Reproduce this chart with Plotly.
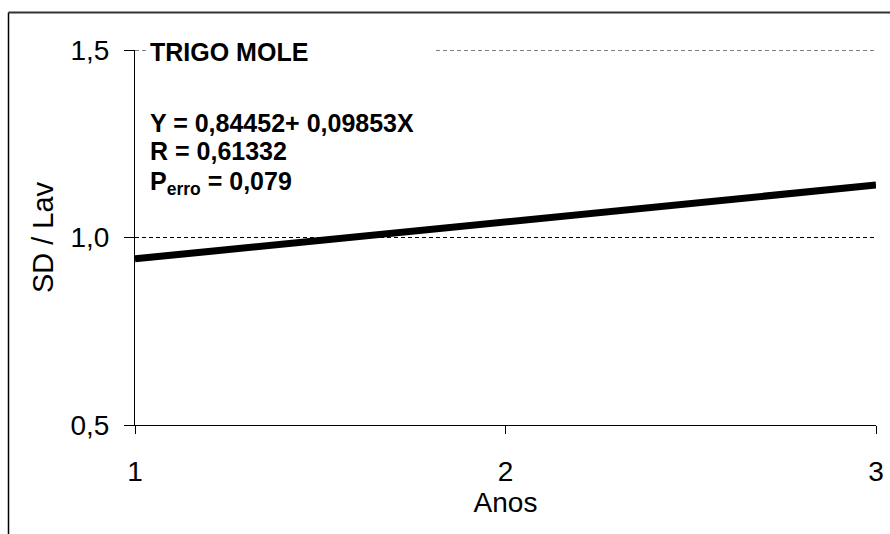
import plotly.graph_objects as go

years = [1, 3]
sd_lav = [0.943, 1.140]
y_ticks = [0.5, 1.0, 1.5]
x_ticks = [1, 2, 3]

W, H = 890, 534
L, R, T, B = 135, 14, 50, 109
pw, ph = W - L - R, H - T - B

def px_x(p):
    return (p - L) / pw

def px_y(p):
    return (H - B - p) / ph

fig = go.Figure()
fig.add_trace(go.Scatter(x=years, y=sd_lav, mode="lines",
                         line=dict(color="black", width=7), showlegend=False,
                         hoverinfo="skip"))

font = "Liberation Sans, Arial, sans-serif"
fig.update_layout(
    width=W, height=H,
    margin=dict(l=L, r=R, t=T, b=B),
    paper_bgcolor="white", plot_bgcolor="white",
    separators=",.",
    font=dict(family=font, color="black", size=28),
    xaxis=dict(range=[1, 3], tickvals=x_ticks, ticktext=[str(v) for v in x_ticks],
               showgrid=False, zeroline=False, showline=True, linecolor="black",
               linewidth=1, ticks="outside", ticklen=8, tickcolor="black",
               tickfont=dict(size=28), ticklabelstandoff=13, automargin=False,
               title=dict(text="Anos", font=dict(size=28), standoff=1)),
    yaxis=dict(range=[0.5, 1.5], tickvals=y_ticks, tickformat=".1f",
               showgrid=True, gridcolor="black", gridwidth=1, griddash="4px,3px",
               zeroline=False, showline=True, linecolor="black", linewidth=1,
               ticks="outside", ticklen=10, tickcolor="black",
               tickfont=dict(size=28), ticklabelstandoff=9, automargin=False,
               title=dict(text="SD / Lav", font=dict(size=29), standoff=8)),
)

# gridline at 1.5 (edge of range)
fig.add_shape(type="line", xref="x", yref="y", x0=1, x1=3, y0=1.5, y1=1.5,
              line=dict(color="black", width=1, dash="4px,3px"), layer="above")

# outer border (left and top)
fig.add_shape(type="line", xref="paper", yref="paper",
              x0=px_x(8.5), x1=px_x(8.5), y0=px_y(12.5), y1=px_y(540),
              line=dict(color="black", width=1.5))
fig.add_shape(type="line", xref="paper", yref="paper",
              x0=px_x(8.5), x1=px_x(895), y0=px_y(12.5), y1=px_y(12.5),
              line=dict(color="#333", width=2))

# white block behind title covering the gridline
fig.add_shape(type="rect", xref="paper", yref="paper",
              x0=px_x(149), x1=px_x(434), y0=px_y(38), y1=px_y(64),
              fillcolor="white", line=dict(width=0), layer="above")

ann = [
    ("<b>TRIGO MOLE</b>", 52),
    ("<b>Y = 0,84452+ 0,09853X</b>", 123),
    ("<b>R = 0,61332</b>", 151),
    ("<b>P<sub>erro</sub> = 0,079</b>", 183),
]
for txt, yc in ann:
    fig.add_annotation(text=txt, xref="paper", yref="paper",
                       x=px_x(148), y=px_y(yc), xanchor="left", yanchor="middle",
                       showarrow=False, font=dict(size=25, family=font, color="black"))

fig.write_html("out.html")
